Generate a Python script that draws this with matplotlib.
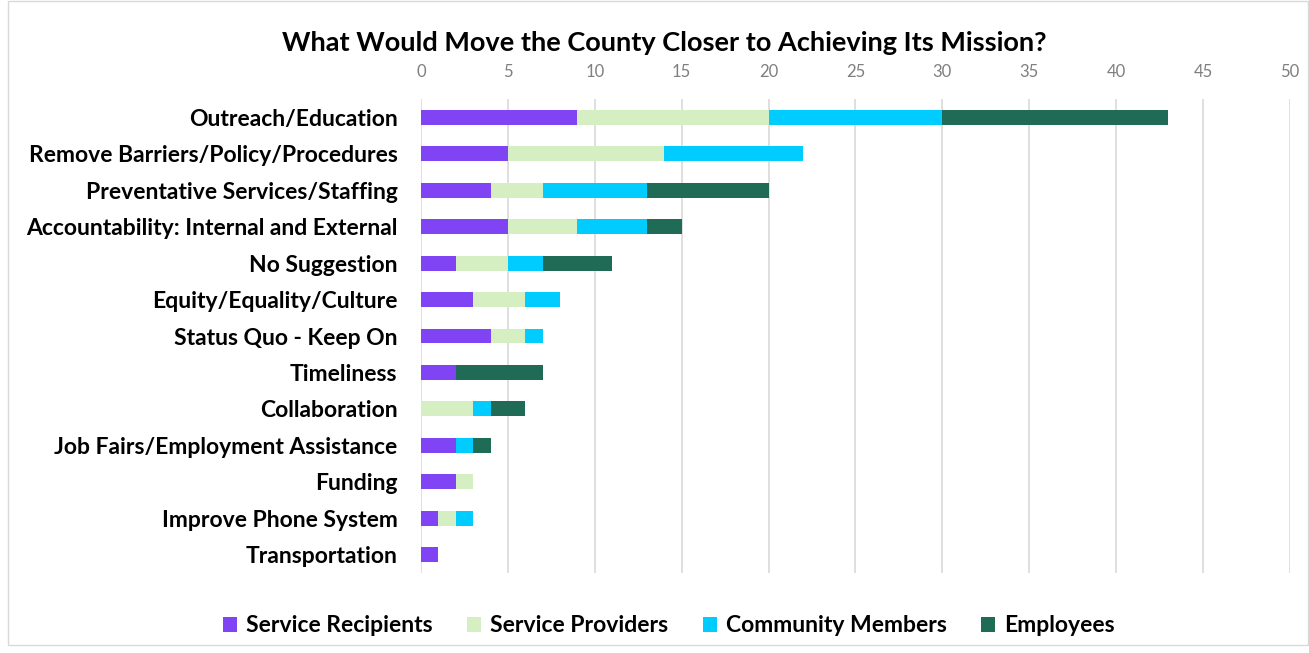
import numpy as np
import matplotlib.pyplot as plt
from matplotlib.patches import Rectangle

categories = ["Outreach/Education", "Remove Barriers/Policy/Procedures",
              "Preventative Services/Staffing", "Accountability: Internal and External",
              "No Suggestion", "Equity/Equality/Culture", "Status Quo - Keep On",
              "Timeliness", "Collaboration", "Job Fairs/Employment Assistance",
              "Funding", "Improve Phone System", "Transportation"]
recipients = [9, 5, 4, 5, 2, 3, 4, 2, 0, 2, 2, 1, 1]
providers = [11, 9, 3, 4, 3, 3, 2, 0, 3, 0, 1, 1, 0]
community = [10, 8, 6, 4, 2, 2, 1, 0, 1, 1, 0, 1, 0]
employees = [13, 0, 7, 2, 4, 0, 0, 5, 2, 1, 0, 0, 0]
series = ["Service Recipients", "Service Providers", "Community Members", "Employees"]
colors = ["#8144f5", "#d6efc2", "#00ccff", "#1f6b55"]

plt.rcParams['font.family'] = ['Lato', 'DejaVu Sans']

fig = plt.figure(figsize=(13.09, 6.53), dpi=100)
ax = fig.add_axes([421/1309, 1-573/653, (1290-421)/1309, (573-99)/653])

y = np.arange(len(categories))
left = np.zeros(len(categories))
for vals, name, c in zip([recipients, providers, community, employees], series, colors):
    ax.barh(y, vals, left=left, height=0.41, color=c, label=name, zorder=3)
    left += np.array(vals)

ax.set_ylim(len(categories) - 0.5, -0.5)
ax.set_xlim(0, 50)
ax.set_xticks(range(0, 51, 5))
ax.xaxis.tick_top()
ax.tick_params(axis='x', length=0, colors='#7f7f7f', labelsize=12, pad=14)
ax.tick_params(axis='y', length=0, labelsize=16.5, pad=17)
ax.set_yticks(y)
ax.set_yticklabels(categories, fontweight='bold')
ax.grid(axis='x', color='#d9d9d9', linewidth=1.2, zorder=0)
for s in ax.spines.values():
    s.set_visible(False)

fig.text(664/1309, 1-43/653, "What Would Move the County Closer to Achieving Its Mission?",
         ha='center', va='center', fontsize=19.5, fontweight='bold')

fig.legend(loc='center', bbox_to_anchor=(669/1309, 1-626/653), ncol=4, frameon=False,
           prop={'weight': 'bold', 'size': 16.5}, handlelength=0.6, handleheight=0.6,
           columnspacing=1.5, handletextpad=0.4)

fig.patches.append(Rectangle((8/1309, 1-645/653), 1300/1309, 644/653, transform=fig.transFigure,
                             fill=False, edgecolor='#d9d9d9', linewidth=1))

fig.savefig("out.png", dpi=100)
